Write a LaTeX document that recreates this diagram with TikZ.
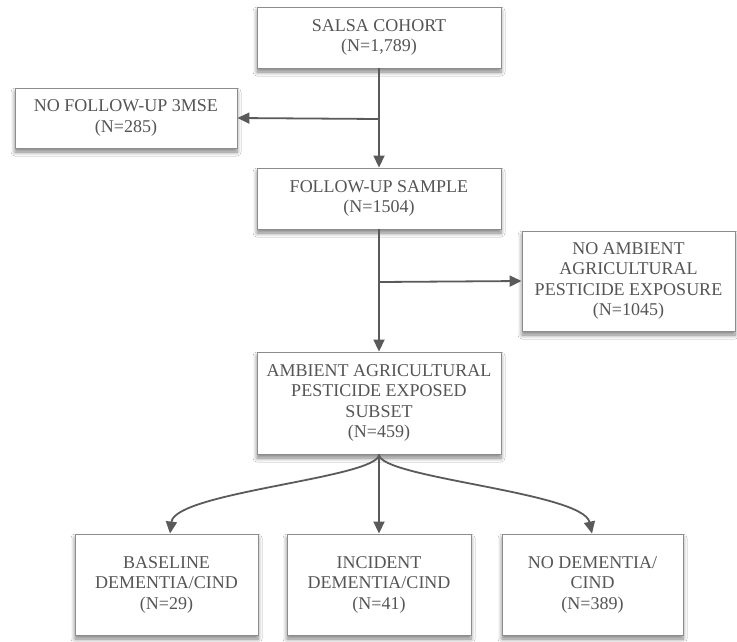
\documentclass[tikz,border=0pt]{standalone}
\usepackage{fontspec}
\setmainfont{Liberation Serif}
\usetikzlibrary{arrows.meta,shadows.blur}
\definecolor{txtc}{HTML}{555555}
\definecolor{boxc}{HTML}{8C8C8C}
\definecolor{arrc}{HTML}{5A5A5A}
\begin{document}
\begin{tikzpicture}[x=1pt,y=-1pt,
  flowbox/.style={draw=boxc, line width=0.9pt, fill=white, align=center,
    text=txtc, inner sep=0pt, anchor=center,
    font=\fontsize{18}{20.5}\selectfont,
    blur shadow={shadow xshift=0pt, shadow yshift=-4pt, shadow blur steps=6, shadow opacity=50, shadow blur radius=4pt}},
  conn/.style={draw=arrc, line width=1.8pt, -{Triangle[length=12pt,width=11pt]}},
  plainline/.style={draw=arrc, line width=1.8pt}]
\useasboundingbox (0,0) rectangle (737,641);
\fill[white] (0,0) rectangle (737,641);

\node[flowbox, minimum width=244pt, minimum height=61pt] (salsa) at (379,37.5) {SALSA COHORT\\(N=1,789)};
\node[flowbox, minimum width=222pt, minimum height=60pt] (nofu) at (126,118) {NO FOLLOW-UP 3MSE\\(N=285)};
\node[flowbox, minimum width=244pt, minimum height=61pt] (fu) at (379,198.5) {FOLLOW-UP SAMPLE\\(N=1504)};
\node[flowbox, minimum width=213pt, minimum height=100pt] (noamb) at (628.5,281) {NO AMBIENT\\AGRICULTURAL\\PESTICIDE EXPOSURE\\(N=1045)};
\node[flowbox, minimum width=244pt, minimum height=102pt] (amb) at (379,403) {AMBIENT AGRICULTURAL\\PESTICIDE EXPOSED\\SUBSET\\(N=459)};
\node[flowbox, minimum width=183pt, minimum height=101pt] (b1) at (166.5,584.5) {BASELINE\\DEMENTIA/CIND\\(N=29)};
\node[flowbox, minimum width=184pt, minimum height=101pt] (b2) at (379,584.5) {INCIDENT\\DEMENTIA/CIND\\(N=41)};
\node[flowbox, minimum width=181pt, minimum height=101pt] (b3) at (592.5,584.5) {NO DEMENTIA/\\CIND\\(N=389)};

\coordinate (j1) at (379,119);
\coordinate (j2) at (379,282);

\draw[conn] (salsa.south) -- (fu.north);
\draw[conn] (j1) -- (nofu.east);
\draw[conn] (fu.south) -- (amb.north);
\draw[conn] (j2) -- (noamb.west);
\draw[conn] (amb.south) -- (b2.north);
\draw[conn] (amb.south) .. controls (379,478) and (175,492) .. ([xshift=3.5pt]b1.north);
\draw[conn] (amb.south) .. controls (379,478) and (583,492) .. ([xshift=-0.5pt]b3.north);
\end{tikzpicture}
\end{document}
